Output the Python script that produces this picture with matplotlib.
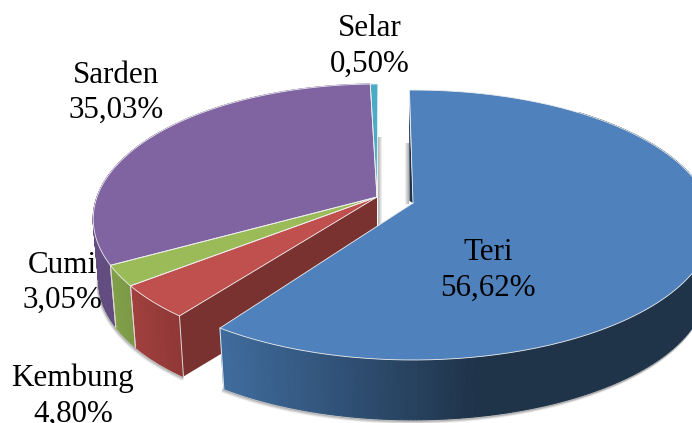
import numpy as np
import matplotlib
matplotlib.use("Agg")
import matplotlib.pyplot as plt
from matplotlib.colors import to_rgb

# ---- data ----
categories = ["Teri", "Kembung", "Cumi", "Sarden", "Selar"]
shares = [56.62, 4.80, 3.05, 35.03, 0.50]
labels = ["56,62%", "4,80%", "3,05%", "35,03%", "0,50%"]

# ---- style ----
top_colors = ["#4f81bd", "#c0504d", "#9bbb59", "#8064a2", "#4bacc6"]
wall_left = ["#3f6b9c", "#a1403e", "#82a04a", "#674f85", "#3e8fa5"]
wall_right = ["#1f3349", "#8f3836", "#7c9846", "#634c80", "#3e8fa5"]
cut_color = "#7a3231"
label_xy = {"Teri": (488, 270.5), "Kembung": (73, 396.5), "Cumi": (62, 283),
            "Sarden": (116, 93), "Selar": (370, 46.5)}

W, H = 692, 423
SQUASH = 131.4      # vertical radius of the disc
PERSP = 0.163       # perspective strength
DEPTH = 63
BASE_SCALE = 0.98
TERI_VIEW = dict(center=(413, 203), radius=295, rot=-0.8, bend=12.8)
REST_VIEW = dict(center=(377, 197), radius=280, rot=0.2, bend=15.5)


def warp(deg, view):
    """The picture's 3-D view bends angles: a smooth bend of the slice angle."""
    return deg + view["bend"] * np.abs(np.sin(np.radians(deg) / 2)) ** 5 + view["rot"]


def project(deg, view, base=False):
    t = np.radians(warp(deg, view))
    u, v = np.sin(t), -np.cos(t)
    s = 1 / (1 - PERSP * v)
    k = BASE_SCALE if base else 1.0
    cx, cy = view["center"]
    x = cx + view["radius"] * u * s * k
    y = cy + SQUASH * v * s * k + (DEPTH if base else 0)
    return x, y


fig = plt.figure(figsize=(W / 100, H / 100), dpi=100)
ax = fig.add_axes([0, 0, 1, 1])
ax.set_xlim(0, W)
ax.set_ylim(H, 0)
ax.axis("off")

edges = np.concatenate([[0], np.cumsum(shares)]) * 3.6
edges[-1] = 360


def grad_wall(a0, a1, c0, c1, view, z, x_span=None):
    n = max(int(abs(a1 - a0) * 1.5), 2)
    aa = np.linspace(a0, a1, n + 1)
    xt, yt = project(aa, view)
    xb, yb = project(aa, view, base=True)
    c0, c1 = np.array(to_rgb(c0)), np.array(to_rgb(c1))
    for i in range(n):
        if x_span:
            f = np.clip((xt[i] - x_span[0]) / (x_span[1] - x_span[0]), 0, 1)
        else:
            f = i / max(n - 1, 1)
        col = c0 * (1 - f) + c1 * f
        ax.fill([xt[i], xt[i + 1], xb[i + 1], xb[i]], [yt[i], yt[i + 1], yb[i + 1], yb[i]],
                color=col, lw=0.8, zorder=z)
    return xt, yt, xb, yb


def soft_shadow(a0, a1, view, z):
    aa = np.linspace(a0, a1, 200)
    xb, yb = project(aa, view, base=True)
    for off, alpha in [(3.0, 0.10), (2.0, 0.18), (1.0, 0.30)]:
        ax.plot(xb - off * 0.5, yb + off, color="#555555", alpha=alpha, lw=1.6, zorder=z,
                solid_capstyle="round")


def top_face(a0, a1, color, view, z):
    aa = np.linspace(a0, a1, 300)
    x, y = project(aa, view)
    cx, cy = view["center"]
    ax.fill(np.r_[cx, x], np.r_[cy, y], color=color, lw=0, zorder=z)
    ax.plot(np.r_[cx, x, cx], np.r_[cy, y, cy],
            color="#eeeeee", lw=0.6, zorder=z + 0.1, solid_joinstyle="round")


# gap shading beside the exploded cut: fades away from the slices
for dx, alpha in [(0, 0.55), (1, 0.42), (2, 0.28), (3, 0.14)]:
    ax.fill_between([378 + dx, 379 + dx], 137, 225, color="#808080", alpha=alpha, lw=0, zorder=0.5)
    ax.fill_between([408 - dx, 409 - dx], 143, 204, color="#777777", alpha=alpha, lw=0, zorder=0.5)

# rest of the pie (all slices but the first), back to front
soft_shadow(edges[1], 262, REST_VIEW, 1)
for i in [3, 2, 1]:
    xt, yt, xb, yb = grad_wall(edges[i], edges[i + 1], wall_right[i], wall_left[i], REST_VIEW, 2)
    ax.plot([xt[0], xb[0]], [yt[0], yb[0]], color="#e0d8d8", lw=0.7, zorder=2.4)
    ax.plot([xt[-1], xb[-1]], [yt[-1], yb[-1]], color="#e0d8d8", lw=0.7, zorder=2.4)

# cut wall of the rest, facing the exploded slice
rc = REST_VIEW["center"]
xc, yc = project(edges[1], REST_VIEW)
xcb, ycb = project(edges[1], REST_VIEW, base=True)
ax.fill([rc[0], xc, xcb, rc[0]], [rc[1], yc, ycb, rc[1] + DEPTH], color=cut_color, lw=0, zorder=2.2)

for i in [4, 3, 2, 1]:
    top_face(edges[i], edges[i + 1], top_colors[i], REST_VIEW, 3)

# exploded first slice
c0 = TERI_VIEW["center"]
xs, ys = project(edges[0], TERI_VIEW)
ax.fill([xs - 0.5, c0[0] - 3.5, c0[0]], [ys + 10, c0[1] - 2, c0[1]], color="#1f3349", lw=0, zorder=4)
soft_shadow(60, edges[1], TERI_VIEW, 4)
grad_wall(40, edges[1], wall_right[0], wall_left[0], TERI_VIEW, 4.5, x_span=(480, 226))
xe, ye = project(edges[1], TERI_VIEW)
xeb, yeb = project(edges[1], TERI_VIEW, base=True)
ax.plot([xe, xeb], [ye, yeb], color="#dfe6ee", lw=0.7, zorder=4.7)
top_face(edges[0], edges[1], top_colors[0], TERI_VIEW, 5)

# labels
for name, lab in zip(categories, labels):
    x, y = label_xy[name]
    ax.text(x, y, f"{name}\n{lab}", ha="center", va="center", fontsize=22.3,
            family="Liberation Serif", color="black", linespacing=1.3, zorder=10, clip_on=False)

fig.savefig("out.png", dpi=100)
